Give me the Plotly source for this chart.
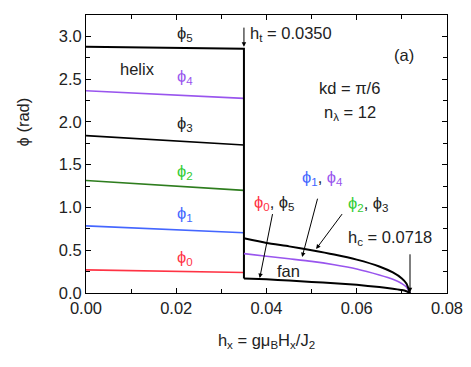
import plotly.graph_objects as go

# helix phase (h_x < h_t)
hx_helix = [0.0, 0.0175, 0.035]
phi0_helix = [0.27, 0.255, 0.24]
phi1_helix = [0.785, 0.745, 0.705]
phi2_helix = [1.315, 1.26, 1.20]
phi3_helix = [1.84, 1.785, 1.73]
phi4_helix = [2.365, 2.32, 2.275]
phi5_helix = [2.88, 2.87, 2.855]

# fan phase (h_t < h_x < h_c)
hx_fan = [0.035, 0.04, 0.045, 0.05, 0.055, 0.06, 0.065, 0.068, 0.07, 0.071, 0.0718]
phi23_fan = [0.64, 0.585, 0.545, 0.50, 0.45, 0.39, 0.31, 0.24, 0.17, 0.11, 0.0]
phi14_fan = [0.46, 0.43, 0.40, 0.37, 0.33, 0.28, 0.21, 0.16, 0.11, 0.07, 0.0]
phi05_fan = [0.17, 0.16, 0.145, 0.13, 0.115, 0.095, 0.07, 0.05, 0.035, 0.02, 0.0]

h_t = 0.035
h_c = 0.0718

RED = '#ff3344'
BLUE = '#4466ff'
GREEN_LINE = '#2e7d1e'
GREEN_TXT = '#33cc33'
PURPLE = '#9955ee'
FONT = 'Liberation Sans, Arial, sans-serif'
PHI = '\u03d5'
FS = 16.5

fig = go.Figure()

def add_line(x, y, color, width=1.6, shape='linear'):
    fig.add_trace(go.Scatter(x=x, y=y, mode='lines', showlegend=False,
                             line=dict(color=color, width=width, shape=shape, smoothing=0.6)))

add_line(hx_helix, phi0_helix, RED)
add_line(hx_helix, phi1_helix, BLUE)
add_line(hx_helix, phi2_helix, GREEN_LINE)
add_line(hx_helix, phi3_helix, 'black')
add_line(hx_helix, phi4_helix, PURPLE)
# phi5 drops at h_t onto the fan branch
add_line(hx_helix + [h_t], phi5_helix + [phi05_fan[0]], 'black', 2)
add_line(hx_fan, phi14_fan, PURPLE, 1.6, 'spline')
add_line(hx_fan, phi23_fan, 'black', 2, 'spline')
add_line(hx_fan, phi05_fan, 'black', 2, 'spline')

def label(x, y, text, color='#222', size=FS, xanchor='center'):
    fig.add_annotation(x=x, y=y, xref='x', yref='y', text=text, showarrow=False,
                       font=dict(color=color, size=size, family=FONT), xanchor=xanchor)

def arrow(x, y, ax, ay):
    fig.add_annotation(x=x, y=y, ax=ax, ay=ay, xref='x', yref='y', axref='x', ayref='y',
                       text='', showarrow=True, arrowhead=2, arrowsize=0.9,
                       arrowwidth=1, arrowcolor='black')

label(0.022, 3.03, PHI + '<sub>5</sub>')
label(0.0115, 2.62, 'helix')
label(0.022, 2.52, PHI + '<sub>4</sub>', PURPLE)
label(0.022, 1.98, PHI + '<sub>3</sub>')
label(0.022, 1.42, PHI + '<sub>2</sub>', GREEN_TXT)
label(0.022, 0.92, PHI + '<sub>1</sub>', BLUE)
label(0.022, 0.41, PHI + '<sub>0</sub>', RED)

label(0.0358, 3.03, 'h<sub>t</sub> = 0.0350', xanchor='left')
label(0.0705, 2.78, '(a)')
label(0.0585, 2.40, 'kd = \u03c0/6')
label(0.0585, 2.10, 'n<sub>\u03bb</sub> = 12')

label(0.0418, 1.05, '<span style="color:%s">%s<sub>0</sub></span>, %s<sub>5</sub>' % (RED, PHI, PHI))
label(0.0525, 1.35, '<span style="color:%s">%s<sub>1</sub></span>, <span style="color:%s">%s<sub>4</sub></span>' % (BLUE, PHI, PURPLE, PHI))
label(0.0627, 1.04, '<span style="color:%s">%s<sub>2</sub></span>, %s<sub>3</sub>' % (GREEN_TXT, PHI, PHI))
label(0.0674, 0.64, 'h<sub>c</sub> = 0.0718')
label(0.0448, 0.26, 'fan')

arrow(h_t, 2.88, h_t, 3.12)
arrow(0.0385, 0.175, 0.0414, 0.94)
arrow(0.0479, 0.42, 0.0514, 1.12)
arrow(0.0510, 0.515, 0.0570, 0.94)
arrow(h_c, 0.01, h_c, 0.47)

# y title sits a little above the middle of the axis, so it is an annotation
fig.add_annotation(x=-0.172, y=0.617, xref='paper', yref='paper', text=PHI + ' (rad)',
                   textangle=-90, showarrow=False, xanchor='center', yanchor='middle',
                   font=dict(size=FS, color='#222', family=FONT))

axis_common = dict(showline=True, mirror='ticks', linecolor='black', linewidth=1,
                   ticks='inside', ticklen=5, tickcolor='black', showgrid=False,
                   zeroline=False, automargin=False, ticklabeloverflow='allow',
                   tickfont=dict(size=FS, color='#222', family=FONT))

fig.update_xaxes(range=[0, 0.08], dtick=0.02, tickformat='.2f',
                 minor=dict(dtick=0.01, ticks='inside', ticklen=4, tickcolor='black'),
                 title=dict(text='h<sub>x</sub> = g\u03bc<sub>B</sub>H<sub>x</sub>/J<sub>2</sub>',
                            font=dict(size=FS, color='#222', family=FONT), standoff=18),
                 **axis_common)
fig.update_yaxes(range=[0, 3.25], dtick=0.5, tickformat='.1f',
                 minor=dict(dtick=0.25, ticks='inside', ticklen=4, tickcolor='black'),
                 **axis_common)

# the page body adds an 8px margin, so the figure is sized to fit the window
fig.update_layout(width=463, height=359, plot_bgcolor='white', paper_bgcolor='white',
                  margin=dict(l=78, r=24, t=7, b=74), font=dict(family=FONT))

fig.write_html("out.html")
